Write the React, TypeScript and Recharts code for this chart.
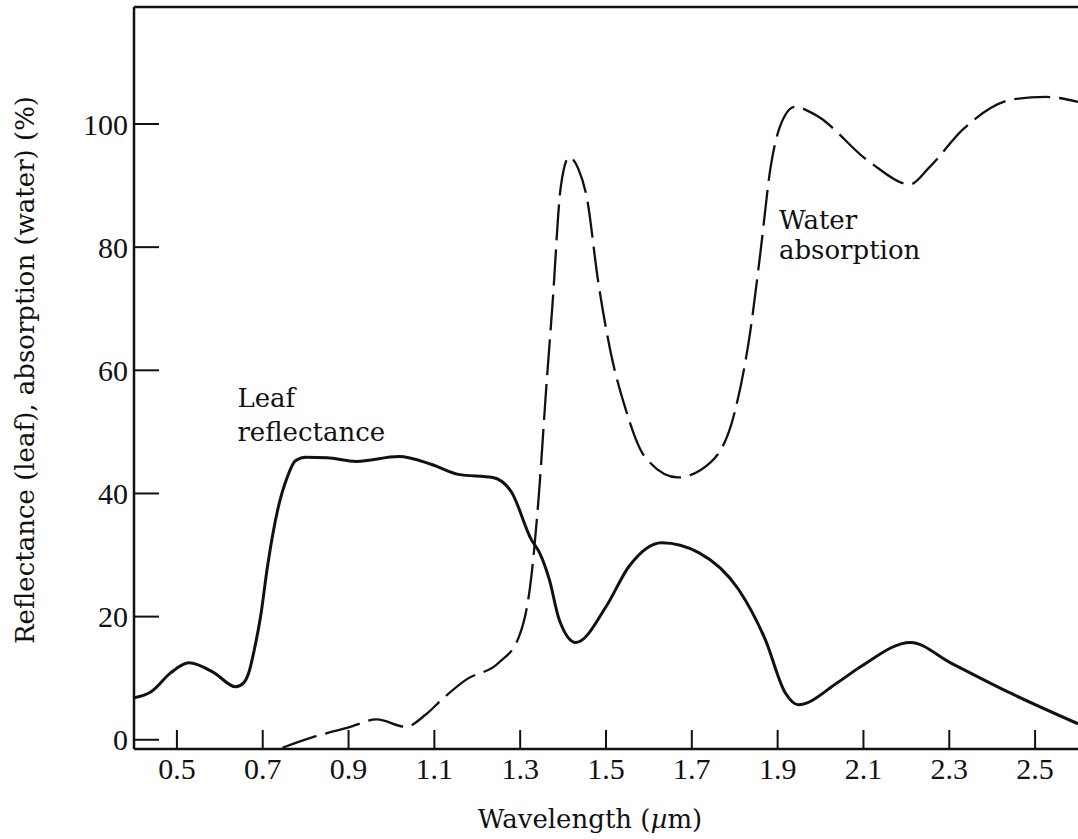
import React from 'react';
import { LineChart, Line, XAxis, YAxis, ReferenceLine, ReferenceDot, Label } from 'recharts';

// Tick values
const xTicks = [0.5, 0.7, 0.9, 1.1, 1.3, 1.5, 1.7, 1.9, 2.1, 2.3, 2.5];
const yTicks = [0, 20, 40, 60, 80, 100];

// Leaf reflectance (%) vs wavelength (µm)
const leafWavelength = [0.4, 0.44, 0.486, 0.528, 0.586, 0.637, 0.655, 0.668, 0.68, 0.695, 0.711, 0.735, 0.758, 0.776, 0.8, 0.85, 0.918, 1.017, 1.094, 1.156, 1.236, 1.28, 1.326, 1.345, 1.368, 1.391, 1.43, 1.5, 1.553, 1.63, 1.716, 1.809, 1.871, 1.918, 1.948, 2.04, 2.094, 2.21, 2.303, 2.442, 2.6];
const leafReflectance = [6.8, 7.8, 10.9, 12.5, 10.9, 8.6, 9.2, 11, 14.5, 20, 28.1, 37.4, 42.8, 45.3, 45.9, 45.8, 45.2, 46, 44.7, 43.1, 42.6, 40.2, 32.5, 30.4, 26, 19.5, 15.8, 21.6, 28.1, 32, 30.4, 24.4, 16.3, 7.6, 5.7, 9.3, 11.9, 15.8, 12.5, 7.6, 2.6];

// Water absorption (%) vs wavelength (µm)
const waterWavelength = [0.746, 0.82, 0.9, 0.966, 1.033, 1.08, 1.117, 1.175, 1.25, 1.297, 1.326, 1.344, 1.36, 1.375, 1.395, 1.414, 1.435, 1.456, 1.481, 1.511, 1.544, 1.59, 1.667, 1.743, 1.8, 1.836, 1.86, 1.883, 1.906, 1.94, 1.985, 2.115, 2.208, 2.254, 2.333, 2.449, 2.525, 2.6];
const waterAbsorption = [-1.3, 0.5, 2, 3.3, 2.1, 4.1, 6.5, 9.8, 12.5, 16.7, 26.5, 40.2, 56.4, 70.4, 90, 94.6, 92.8, 87.8, 74.8, 62.9, 54.1, 46, 42.6, 45, 53.2, 66.2, 79.2, 92.7, 99.7, 102.8, 101.6, 93.8, 90.2, 93, 99.2, 104, 104.4, 103.6];

// Annotation anchors (data coordinates) and texts
const annotations = [
  { x: 0.641, y: 54.0, text: 'Leaf' },
  { x: 0.641, y: 48.5, text: 'reflectance' },
  { x: 1.903, y: 82.9, text: 'Water' },
  { x: 1.903, y: 78.0, text: 'absorption' },
];

const X_MIN = 0.4;
const X_MAX = 2.6;
const Y_MIN = -1.5;
const Y_MAX = 119;

const leafData = leafWavelength.map((x, i) => ({ x, v: leafReflectance[i] }));
const waterData = waterWavelength.map((x, i) => ({ x, v: waterAbsorption[i] }));

const INK = '#111';
const TICK_FONT = "'Liberation Serif', 'Times New Roman', serif";
const TEXT_FONT = "'DejaVu Serif', serif";

const makeAnnot = (text: string) => (props: any) => {
  const vb = props.viewBox || {};
  return (
    <text x={vb.x} y={vb.y} fill={INK} fontFamily={TEXT_FONT} fontSize={26}>
      {text}
    </text>
  );
};

// Inward tick marks, anchored at the tick's data position on the axis
const XTickMark = (props: any) => {
  const vb = props.viewBox || {};
  return <path d={`M${vb.x},${vb.y}V${vb.y - 19}`} stroke={INK} strokeWidth={2} fill="none" />;
};
const YTickMark = (props: any) => {
  const vb = props.viewBox || {};
  return <path d={`M${vb.x},${vb.y}H${vb.x + 25}`} stroke={INK} strokeWidth={2} fill="none" />;
};

const YTitle = (props: any) => {
  const vb = props.viewBox || {};
  const cx = 25;
  const cy = vb.y + vb.height / 2 - 8;
  return (
    <text
      x={cx}
      y={cy}
      transform={`rotate(-90, ${cx}, ${cy})`}
      textAnchor="middle"
      dominantBaseline="central"
      fill={INK}
      fontFamily={TEXT_FONT}
      fontSize={26}
    >
      Reflectance (leaf), absorption (water) (%)
    </text>
  );
};

const XTitle = (props: any) => {
  const vb = props.viewBox || {};
  const cx = vb.x + vb.width / 2 - 16;
  const by = vb.y + 79;
  return (
    <text x={cx} y={by} textAnchor="middle" fill={INK} fontFamily={TEXT_FONT} fontSize={26}>
      Wavelength (<tspan fontStyle="italic">µ</tspan>m)
    </text>
  );
};

export default function App() {
  return (
    <div style={{ position: 'absolute', left: 0, top: 0, width: 1078, height: 839, background: '#fff' }}>
      <LineChart width={1078} height={839} margin={{ top: 7, right: 0, bottom: 0, left: 0 }}>
        <XAxis
          type="number"
          dataKey="x"
          domain={[X_MIN, X_MAX]}
          ticks={xTicks}
          allowDataOverflow
          height={90}
          axisLine={{ stroke: INK, strokeWidth: 2.5 }}
          tickLine={false}
          tickSize={0}
          tickMargin={9}
          tick={{ fill: INK, fontFamily: TICK_FONT, fontSize: 30 }}
        >
          <Label content={XTitle} />
        </XAxis>
        <YAxis
          type="number"
          domain={[Y_MIN, Y_MAX]}
          ticks={yTicks}
          allowDataOverflow
          width={134}
          axisLine={{ stroke: INK, strokeWidth: 2.5 }}
          tickLine={false}
          tickSize={0}
          tickMargin={6}
          tick={{ fill: INK, fontFamily: TICK_FONT, fontSize: 30 }}
        >
          <Label content={YTitle} />
        </YAxis>
        <ReferenceLine y={Y_MAX} stroke={INK} strokeWidth={2.5} ifOverflow="visible" />
        {xTicks.map((t) => (
          <ReferenceDot
            key={`xt${t}`}
            x={t}
            y={Y_MIN}
            r={0}
            fill="none"
            stroke="none"
            ifOverflow="visible"
            label={XTickMark}
          />
        ))}
        {yTicks.map((t) => (
          <ReferenceDot
            key={`yt${t}`}
            x={X_MIN}
            y={t}
            r={0}
            fill="none"
            stroke="none"
            ifOverflow="visible"
            label={YTickMark}
          />
        ))}
        <Line
          data={leafData}
          dataKey="v"
          type="monotone"
          stroke={INK}
          strokeWidth={3}
          dot={false}
          activeDot={false}
          isAnimationActive={false}
        />
        <Line
          data={waterData}
          dataKey="v"
          type="monotone"
          stroke={INK}
          strokeWidth={2.3}
          strokeDasharray="36 9"
          dot={false}
          activeDot={false}
          isAnimationActive={false}
        />
        {annotations.map((a) => (
          <ReferenceDot
            key={a.text}
            x={a.x}
            y={a.y}
            r={0}
            fill="none"
            stroke="none"
            label={makeAnnot(a.text)}
          />
        ))}
      </LineChart>
    </div>
  );
}
